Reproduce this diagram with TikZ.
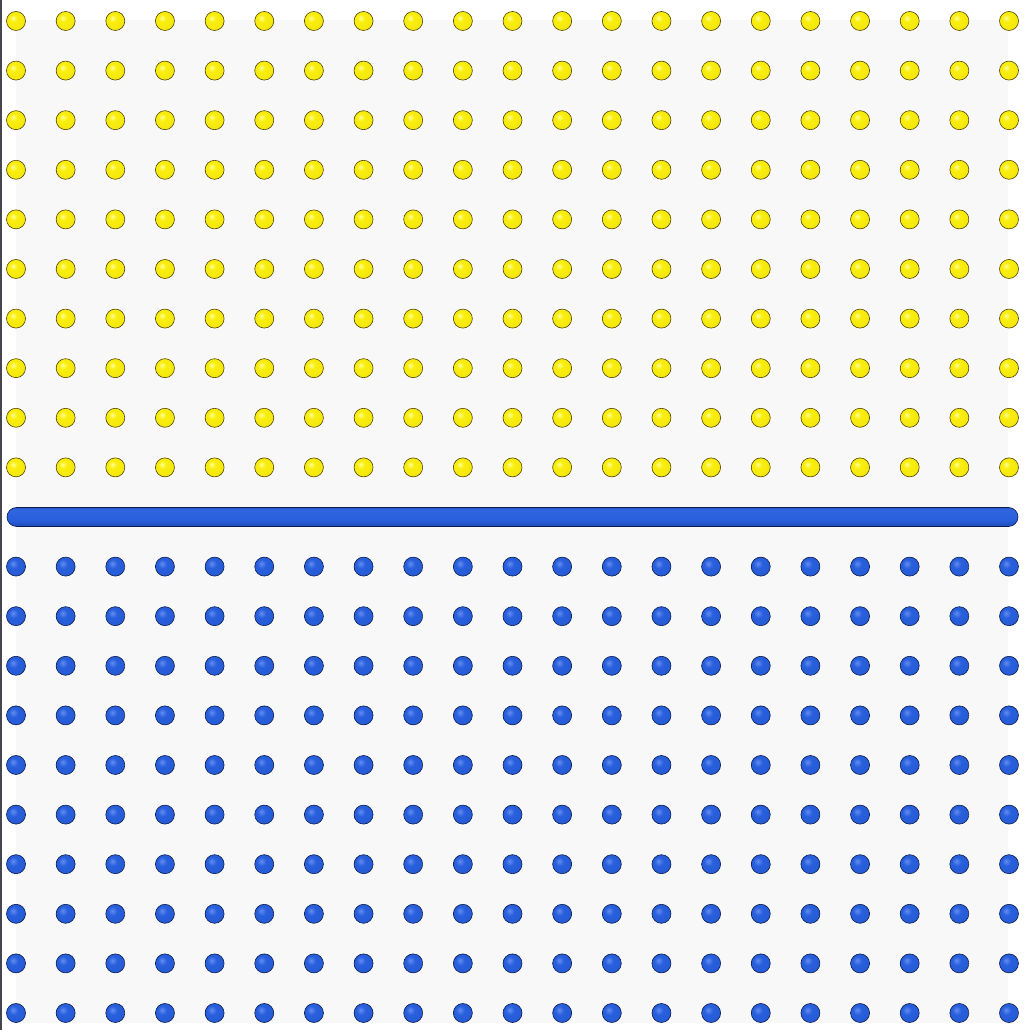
\documentclass[tikz,border=0pt]{standalone}
\usetikzlibrary{shapes.misc}
\definecolor{panel}{RGB}{248,248,248}
\definecolor{edgeline}{RGB}{70,70,80}
\definecolor{ylight}{RGB}{255,255,150}
\definecolor{ymid}{RGB}{250,238,15}
\definecolor{yedge}{RGB}{205,180,0}
\definecolor{ydark}{RGB}{115,95,0}
\definecolor{blight}{RGB}{100,140,240}
\definecolor{bmid}{RGB}{40,95,220}
\definecolor{bedge}{RGB}{28,65,170}
\definecolor{bdark}{RGB}{15,35,95}
\pgfdeclareradialshading{yball}{\pgfpoint{-8bp}{8bp}}{color(0bp)=(ylight); color(10bp)=(ymid); color(32bp)=(ymid!85!yedge); color(46bp)=(yedge); color(58bp)=(ydark); color(100bp)=(ydark)}
\pgfdeclareradialshading{bball}{\pgfpoint{-8bp}{8bp}}{color(0bp)=(blight); color(12bp)=(bmid); color(34bp)=(bmid!85!bedge); color(47bp)=(bedge); color(58bp)=(bdark); color(100bp)=(bdark)}
\pgfdeclareverticalshading{barshade}{100bp}{color(0bp)=(bdark); color(18bp)=(bedge); color(42bp)=(bmid); color(68bp)=(bmid!85!blight); color(86bp)=(bedge); color(100bp)=(bdark)}
\tikzset{
  yball/.style={circle, inner sep=0pt, minimum size=19pt, shading=yball, draw=ydark!70!black, line width=0.6pt},
  bball/.style={circle, inner sep=0pt, minimum size=19pt, shading=bball, draw=bdark!80!black, line width=0.6pt},
  barbox/.style={rounded rectangle, inner sep=0pt, minimum width=1011pt, minimum height=19pt, shading=barshade, draw=bdark!80!black, line width=0.6pt}
}
\begin{document}
\begin{tikzpicture}[x=1pt,y=1pt]
\useasboundingbox (0,0) rectangle (1025,1030);
\fill[white] (0,0) rectangle (1025,1030);
\fill[panel] (16,7) rectangle (1008,1010);
\draw[edgeline, line width=1.5pt] (0.75,0) -- (0.75,1030);
\foreach \i in {0,...,9}{
  \foreach \j in {0,...,20}{
    \pgfmathsetmacro{\xx}{16+49.65*\j}
    \pgfmathsetmacro{\yy}{1030-(21+49.6*\i)}
    \node[yball] (y-\i-\j) at (\xx,\yy) {};
  }
}
\node[barbox] (bar) at (512.5,513) {};
\foreach \i in {11,...,20}{
  \foreach \j in {0,...,20}{
    \pgfmathsetmacro{\xx}{16+49.65*\j}
    \pgfmathsetmacro{\yy}{1030-(21+49.6*\i)}
    \node[bball] (b-\i-\j) at (\xx,\yy) {};
  }
}
\end{tikzpicture}
\end{document}
